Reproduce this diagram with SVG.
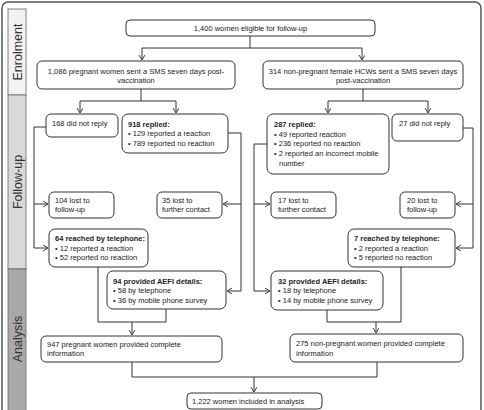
<svg xmlns="http://www.w3.org/2000/svg" width="484" height="410" viewBox="0 0 484 410">
<defs>
<marker id="ah" markerUnits="userSpaceOnUse" markerWidth="8" markerHeight="8" refX="5" refY="3" orient="auto">
<path d="M0,0 L5,3 L0,6" fill="none" stroke="#444" stroke-width="1"/>
</marker>
<style>
.box{fill:#fff;stroke:#333;stroke-width:1}
.t{font-family:"Liberation Sans",Arial,sans-serif;font-size:7.5px;fill:#222}
.b{font-weight:bold}
.c{text-anchor:middle}
.side{font-family:"Liberation Sans",Arial,sans-serif;font-size:12.5px;fill:#333;text-anchor:middle}
.ln{fill:none;stroke:#333;stroke-width:1}
.ar{fill:none;stroke:#333;stroke-width:1;marker-end:url(#ah)}
</style>
</defs>
<rect x="0" y="0" width="484" height="410" fill="#fff"/>
<rect x="2" y="2" width="479" height="418" rx="6" fill="none" stroke="#555" stroke-width="1.5"/>
<g id="side">
<rect x="8" y="9" width="18" height="86" fill="#f2f2f2" stroke="#666" stroke-width="0.8"/>
<rect x="8" y="95" width="18" height="174" fill="#d9d9d9" stroke="#666" stroke-width="0.8"/>
<rect x="8" y="269" width="18" height="150" fill="#a9a9a9" stroke="#666" stroke-width="0.8"/>
<text class="side" transform="translate(21.5,52) rotate(-90)">Enrolment</text>
<text class="side" transform="translate(21.5,182) rotate(-90)">Follow-up</text>
<text class="side" transform="translate(21.5,339) rotate(-90)">Analysis</text>
</g>
<g id="connectors">
<path class="ln" d="M250,36 V48 M142,48 H362"/>
<path class="ar" d="M142,48 V60"/>
<path class="ar" d="M362,48 V60"/>
<path class="ln" d="M141,89 V101 M80,101 H176"/>
<path class="ar" d="M80,101 V113"/>
<path class="ar" d="M176,101 V113"/>
<path class="ln" d="M363,89 V101 M328,101 H428"/>
<path class="ar" d="M328,101 V113"/>
<path class="ar" d="M428,101 V113"/>
<path class="ar" d="M46,127 H34 V248 H48"/>
<path class="ar" d="M34,204 H48"/>
<path class="ar" d="M228,133 H241 V291 H227"/>
<path class="ar" d="M241,204 H223"/>
<path class="ar" d="M267,144 H254 V291 H270"/>
<path class="ar" d="M254,204 H270"/>
<path class="ar" d="M463,128 H473 V248 H456"/>
<path class="ar" d="M473,204 H456"/>
<path class="ln" d="M98,267 V322 H166 V309"/>
<path class="ar" d="M132,322 V335"/>
<path class="ln" d="M327,310 V322 H401 V267"/>
<path class="ar" d="M376,322 V333"/>
<path class="ln" d="M132,362 V377 H377 V362"/>
<path class="ar" d="M254,377 V392"/>
</g>
<g id="n1400">
<rect class="box" x="126" y="20" width="249" height="16" rx="4"/>
<text class="t c" x="250.5" y="30.5">1,400 women eligible for follow-up</text>
</g>
<g id="n1086">
<rect class="box" x="37" y="61" width="198" height="28" rx="5"/>
<text class="t c" x="136" y="73.5">1,086 pregnant women sent a SMS seven days post-</text>
<text class="t c" x="136" y="82.5">vaccination</text>
</g>
<g id="n314">
<rect class="box" x="263" y="61" width="200" height="28" rx="5"/>
<text class="t c" x="363" y="74">314 non-pregnant female HCWs sent a SMS seven days</text>
<text class="t c" x="363" y="83">post-vaccination</text>
</g>
<g id="n168">
<rect class="box" x="46" y="114" width="72" height="23" rx="5"/>
<text class="t" x="52" y="126">168 did not reply</text>
</g>
<g id="n918">
<rect class="box" x="122" y="114" width="106" height="39" rx="6"/>
<text class="t b" x="128" y="126.5">918 replied:</text>
<text class="t" x="128" y="136">• 129 reported a reaction</text>
<text class="t" x="128" y="145.5">• 789 reported no reaction</text>
</g>
<g id="n287">
<rect class="box" x="267" y="114" width="122" height="60" rx="6"/>
<text class="t b" x="274" y="127">287 replied:</text>
<text class="t" x="274" y="136.5">• 49 reported reaction</text>
<text class="t" x="274" y="146">• 236 reported no reaction</text>
<text class="t" x="274" y="156">• 2 reported an incorrect mobile</text>
<text class="t" x="279" y="165.5">number</text>
</g>
<g id="n27">
<rect class="box" x="392" y="114" width="71" height="27" rx="5"/>
<text class="t" x="399" y="126">27 did not reply</text>
</g>
<g id="n104">
<rect class="box" x="49" y="192" width="65" height="26" rx="5"/>
<text class="t" x="55" y="202.5">104 lost to</text>
<text class="t" x="55" y="212">follow-up</text>
</g>
<g id="n35">
<rect class="box" x="157" y="192" width="65" height="26" rx="5"/>
<text class="t" x="162" y="202.5">35 lost to</text>
<text class="t" x="162" y="212">further contact</text>
</g>
<g id="n17">
<rect class="box" x="271" y="192" width="65" height="26" rx="5"/>
<text class="t" x="278" y="202.5">17 lost to</text>
<text class="t" x="278" y="212">further contact</text>
</g>
<g id="n20">
<rect class="box" x="400" y="192" width="55" height="26" rx="5"/>
<text class="t" x="407" y="202.5">20 lost to</text>
<text class="t" x="407" y="212">follow-up</text>
</g>
<g id="n64">
<rect class="box" x="49" y="229" width="99" height="38" rx="6"/>
<text class="t b" x="55" y="240.5">64 reached by telephone:</text>
<text class="t" x="55" y="250.5">• 12 reported a reaction</text>
<text class="t" x="55" y="260">• 52 reported no reaction</text>
</g>
<g id="n7">
<rect class="box" x="348" y="229" width="107" height="38" rx="6"/>
<text class="t b" x="354" y="240.5">7 reached by telephone:</text>
<text class="t" x="354" y="250.5">• 2 reported a reaction</text>
<text class="t" x="354" y="260">• 5 reported no reaction</text>
</g>
<g id="n94">
<rect class="box" x="107" y="271" width="119" height="38" rx="6"/>
<text class="t b" x="113" y="283.5">94 provided AEFI details:</text>
<text class="t" x="113" y="293">• 58 by telephone</text>
<text class="t" x="113" y="302.5">• 36 by mobile phone survey</text>
</g>
<g id="n32">
<rect class="box" x="271" y="271" width="112" height="39" rx="6"/>
<text class="t b" x="278" y="283.5">32 provided AEFI details:</text>
<text class="t" x="278" y="293">• 18 by telephone</text>
<text class="t" x="278" y="302.5">• 14 by mobile phone survey</text>
</g>
<g id="n947">
<rect class="box" x="41" y="336" width="181" height="26" rx="5"/>
<text class="t" x="47" y="346.5">947 pregnant women provided complete</text>
<text class="t" x="47" y="356">information</text>
</g>
<g id="n275">
<rect class="box" x="290" y="334" width="173" height="28" rx="5"/>
<text class="t" x="296" y="345.5">275 non-pregnant women provided complete</text>
<text class="t" x="296" y="355.5">information</text>
</g>
<g id="n1222">
<rect class="box" x="187" y="393" width="135" height="16" rx="4"/>
<text class="t" x="192" y="404">1,222 women included in analysis</text>
</g>
</svg>
